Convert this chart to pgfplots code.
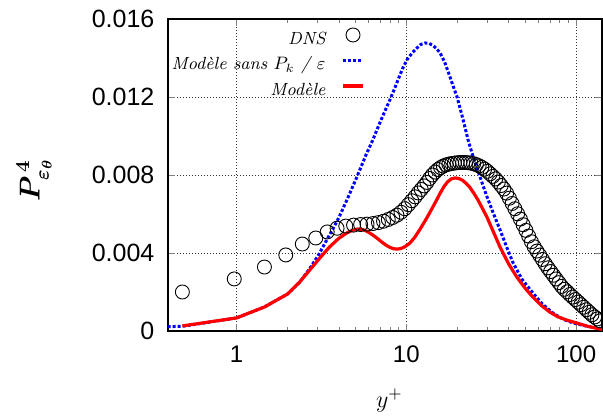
\documentclass[border=0pt]{standalone}
\usepackage{amsmath}
\usepackage{fontspec}
\setsansfont{Liberation Sans}
\usepackage{pgfplots}
\usepackage{pgfplotstable}
\pgfplotsset{compat=1.18}
\pgfplotsset{
  linelegend/.style={legend image code/.code={\draw[##1] (0pt,2.5pt) -- (10pt,2.5pt);}},
  marklegend/.style={legend image code/.code={\draw[##1] plot coordinates {(5pt,2.5pt)};}},
}

% DNS
\pgfplotstableread{
yp      p
0.48    0.00200
0.97    0.00267
1.46    0.00328
1.95    0.00390
2.44    0.00446
2.93    0.00477
3.42    0.00508
3.91    0.00527
4.40    0.00538
4.89    0.00543
5.38    0.00546
5.87    0.00548
6.36    0.00551
6.85    0.00556
7.34    0.00563
7.83    0.00572
8.32    0.00582
8.81    0.00594
9.30    0.00609
9.79    0.00627
10.28   0.00648
10.77   0.00668
11.26   0.00688
11.75   0.00708
12.24   0.00726
12.73   0.00744
13.21   0.00762
13.71   0.00782
14.23   0.00800
14.78   0.00815
15.34   0.00828
15.92   0.00838
16.52   0.00846
17.15   0.00852
17.80   0.00856
18.48   0.00859
19.18   0.00861
19.91   0.00863
20.67   0.00864
21.45   0.00864
22.27   0.00864
23.11   0.00863
23.99   0.00861
24.90   0.00858
25.85   0.00853
26.83   0.00847
27.85   0.00839
28.91   0.00830
30.01   0.00819
31.15   0.00806
32.33   0.00793
33.56   0.00780
34.84   0.00764
36.16   0.00746
37.54   0.00728
38.96   0.00707
40.44   0.00681
41.98   0.00654
43.58   0.00627
45.23   0.00601
46.95   0.00574
48.74   0.00545
50.59   0.00516
52.51   0.00487
54.51   0.00458
56.58   0.00432
58.73   0.00410
60.96   0.00389
63.28   0.00367
65.68   0.00345
68.18   0.00324
70.77   0.00305
73.46   0.00286
76.25   0.00267
79.15   0.00248
82.16   0.00229
85.28   0.00214
88.52   0.00201
91.88   0.00187
95.37   0.00174
99.00   0.00161
102.76  0.00148
106.66  0.00135
110.72  0.00122
114.92  0.00109
119.29  0.00096
123.82  0.00083
128.53  0.00072
133.41  0.00062
138.48  0.00052
143.74  0.00043
149.20  0.00035
}\dnsdata

% Modele sans Pk/eps
\pgfplotstableread{
yp      p
0.30    0.00020
0.48    0.00024
1.00    0.00067
1.46    0.00123
2.00    0.00190
2.35    0.00250
2.70    0.00320
3.05    0.00392
3.40    0.00467
3.70    0.00525
4.00    0.00580
4.52    0.00682
5.00    0.00770
5.32    0.00826
5.80    0.00905
6.35    0.00980
7.00    0.01070
7.50    0.01130
8.00    0.01185
8.50    0.01240
9.00    0.01295
9.50    0.01345
10.07   0.01390
10.8    0.01425
11.5    0.01450
12.2    0.01470
12.9    0.01477
13.6    0.01475
14.3    0.01465
15.0    0.01450
15.8    0.01426
16.8    0.01380
17.8    0.01320
18.8    0.01260
19.9    0.01200
21.5    0.01090
23.1    0.00980
24.5    0.00905
26.0    0.00840
27.8    0.00765
29.8    0.00690
32.5    0.00605
35.6    0.00520
39.0    0.00430
42.5    0.00350
48.0    0.00265
55.6    0.00195
63.0    0.00140
73.0    0.00092
84.0    0.00060
96.0    0.00041
115     0.00025
142     0.00012
}\sansdata

% Modele
\pgfplotstableread{
yp      p
0.48    0.00026
1.00    0.00067
1.46    0.00123
2.00    0.00190
2.35    0.00250
2.70    0.00313
3.10    0.00375
3.53    0.00431
4.00    0.00475
4.46    0.00503
4.80    0.00516
5.18    0.00523
5.55    0.00520
5.90    0.00510
6.30    0.00494
6.70    0.00477
7.15    0.00457
7.60    0.00440
8.00    0.00429
8.40    0.00422
8.80    0.00420
9.20    0.00422
9.60    0.00428
10.0    0.00437
10.5    0.00451
11.2    0.00480
12.0    0.00520
13.0    0.00570
14.0    0.00620
15.0    0.00668
15.8    0.00706
16.7    0.00742
17.5    0.00765
18.4    0.00780
19.4    0.00785
20.4    0.00782
21.5    0.00772
22.5    0.00757
23.6    0.00738
25.0    0.00706
26.5    0.00670
28.0    0.00630
29.8    0.00585
32.5    0.00510
35.6    0.00431
40.0    0.00345
44.7    0.00277
50.0    0.00220
55.6    0.00174
62.0    0.00133
70.0    0.00097
78.0    0.00073
88.0    0.00056
100     0.00042
116     0.00025
130     0.00015
142     0.00008
}\modeledata

\begin{document}
\begin{tikzpicture}
\begin{axis}[
    name=ax,
    scale only axis,
    width=217pt, height=156pt,
    xmode=log,
    xmin=0.395, xmax=142,
    ymin=0, ymax=0.016,
    scaled y ticks=false,
    xtick={1,10,100}, xticklabels={1,10,100},
    ytick={0,0.004,0.008,0.012,0.016},
    yticklabels={0,0.004,0.008,0.012,0.016},
    axis line style={line width=0.6pt},
    major tick length=3.5pt, minor tick length=2pt,
    grid=major,
    grid style={black!80, line width=0.4pt, dash pattern=on 0.5pt off 1pt},
    xticklabel style={font=\fontsize{12}{14}\sffamily, yshift=-3.85pt},
    yticklabel style={font=\fontsize{12.5}{14}\sffamily, xshift=-3.3pt},
    xlabel={$y^{+}$},
    xlabel style={at={(axis description cs:0.51,0)}, anchor=center, yshift=-34.75pt, font=\fontsize{12}{14}\selectfont},
    ylabel={$\boldsymbol{P^{\,4}_{\varepsilon_\theta}}$},
    ylabel style={at={(axis description cs:-0.309,0.484)}, anchor=center, font=\fontsize{14}{16}\selectfont},
    legend plot pos=right,
    legend cell align=right,
    legend style={at={(axis description cs:0.454,0.9725)}, anchor=north east,
        draw=none, fill=none, inner sep=0pt, column sep=7pt, row sep=1.25pt,
        font=\fontsize{8.8}{10}\selectfont\itshape,
        nodes={inner sep=1pt, text height=7pt, text depth=2.5pt}},
]
\addplot[only marks, mark=o, mark size=3.5pt,
    mark options={draw=black, fill=white, line width=0.45pt}, marklegend]
    table[x=yp, y=p] {\dnsdata};
\addplot[color=blue, line width=1.5pt, dash pattern=on 1.5pt off 1pt, linelegend]
    table[x=yp, y=p] {\sansdata};
\addplot[color=red, line width=1.6pt, linelegend]
    table[x=yp, y=p] {\modeledata};
\legend{DNS, Modèle sans $P_k$ / $\varepsilon$, Modèle}
\end{axis}
\pgfresetboundingbox
\path ([xshift=-84pt, yshift=-43pt]ax.south west) rectangle ([xshift=0.5pt, yshift=9.5pt]ax.north east);
\end{tikzpicture}
\end{document}
